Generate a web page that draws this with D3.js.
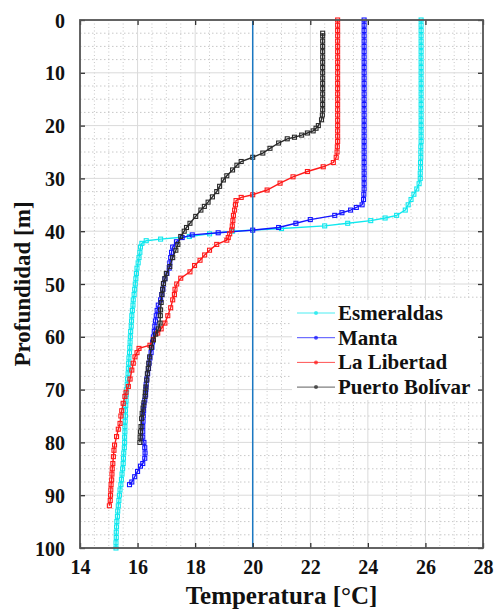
<!DOCTYPE html>
<html>
<head>
<meta charset="utf-8">
<script src="https://cdn.jsdelivr.net/npm/d3@7"></script>
<style>
  body { margin: 0; background: #fff; }
  text { font-family: "Liberation Serif", "Times New Roman", serif; font-weight: bold; fill: #111; }
</style>
</head>
<body>
<div id="chart"></div>
<script>
// [profundidad (m), temperatura (°C)]
var esmeraldas = [
  [0,25.85],[1,25.85],[2,25.85],[3,25.85],[4,25.85],[5,25.85],[6,25.85],[7,25.85],[8,25.85],[9,25.85],
  [10,25.85],[11,25.85],[12,25.85],[13,25.85],[14,25.85],[15,25.85],[16,25.85],[17,25.85],[18,25.85],[19,25.85],
  [20,25.85],[21,25.85],[22,25.85],[23,25.85],[24,25.84],[25,25.84],[26,25.84],[27,25.83],[28,25.83],[29,25.82],[30,25.82],
  [31,25.78],[32,25.7],[33,25.6],[34,25.5],[35,25.4],[36,25.3],[37,25.0],[37.5,24.6],[38,24.1],[38.5,23.3],
  [39,22.5],[39.5,21.0],[40,19.3],[40.5,18.5],[41,17.8],[41.5,16.8],[41.8,16.3],[42.3,16.15],
  [43,16.1],[44,16.08],[45,16.05],[46,16.02],[47,15.98],[48,15.96],[49,15.94],[50,15.92],[51,15.9],[52,15.88],
  [53,15.85],[54,15.84],[55,15.82],[56,15.8],[57,15.79],[58,15.78],[59,15.76],[60,15.75],[61,15.74],[62,15.73],
  [63,15.72],[64,15.7],[65,15.69],[66,15.68],[67,15.67],[68,15.65],[69,15.64],[70,15.62],[71,15.61],[72,15.6],
  [73,15.59],[74,15.58],[75,15.58],[76,15.57],[77,15.56],[78,15.56],[79,15.55],[80,15.55],[81,15.54],[82,15.52],
  [83,15.51],[84,15.5],[85,15.48],[86,15.46],[87,15.44],[88,15.42],[89,15.39],[90,15.37],[91,15.35],[92,15.33],
  [93,15.31],[94,15.3],[95,15.28],[96,15.27],[97,15.26],[98,15.26],[99,15.25],[100,15.25]
];
var manta = [
  [0,23.87],[1,23.87],[2,23.87],[3,23.87],[4,23.87],[5,23.87],[6,23.87],[7,23.87],[8,23.87],[9,23.87],
  [10,23.87],[11,23.87],[12,23.87],[13,23.87],[14,23.87],[15,23.87],[16,23.87],[17,23.87],[18,23.87],[19,23.87],
  [20,23.87],[21,23.87],[22,23.87],[23,23.87],[24,23.87],[25,23.87],[26,23.87],[27,23.87],[28,23.87],[29,23.87],
  [30,23.87],[31,23.87],[32,23.87],[33,23.86],[34,23.85],[35,23.8],[35.5,23.6],[36,23.4],[36.5,23.1],[37,22.85],
  [37.8,22.0],[38.5,21.5],[39.3,20.9],[39.8,20.0],[40.3,18.8],[40.7,17.9],[41.2,17.55],[42,17.35],[43,17.22],
  [44,17.18],[45,17.15],[46,17.12],[47,17.1],[48,17.02],[49,16.95],[50,16.9],[51,16.88],[52,16.84],[53,16.8],
  [54,16.72],[55,16.68],[56,16.65],[57,16.62],[58,16.6],[59,16.58],[60,16.55],[61,16.52],[62,16.5],[63,16.47],
  [64,16.43],[65,16.4],[66,16.38],[67,16.35],[68,16.32],[69,16.3],[70,16.29],[71,16.28],[72,16.25],[73,16.22],
  [74,16.21],[75,16.2],[76,16.19],[77,16.18],[78,16.18],[79,16.18],[80,16.22],[81,16.25],[82,16.26],[83,16.25],
  [84,16.18],[84.5,16.1],[85.5,16.0],[86.5,15.9],[87.5,15.8],[88,15.72]
];
var laLibertad = [
  [0,22.95],[1,22.95],[2,22.95],[3,22.95],[4,22.95],[5,22.95],[6,22.95],[7,22.95],[8,22.95],[9,22.95],
  [10,22.95],[11,22.95],[12,22.95],[13,22.95],[14,22.95],[15,22.95],[16,22.95],[17,22.95],[18,22.95],[19,22.95],
  [20,22.95],[21,22.95],[22,22.95],[23,22.95],[24,22.94],[25,22.93],[26,22.9],[27,22.8],[27.8,22.45],[28.7,21.9],
  [29.7,21.4],[30.9,20.95],[32.2,20.5],[33.1,20.0],[33.6,19.6],[34.2,19.42],[35,19.4],[36,19.37],[37,19.33],
  [38,19.31],[39,19.29],[39.8,19.27],[40.5,19.2],[41.2,19.15],[41.7,19.1],[42.5,18.75],[43.6,18.5],[44.5,18.33],
  [45.5,18.17],[46.5,17.98],[47.7,17.82],[48.9,17.5],[50,17.36],[51,17.3],[52,17.28],[53,17.22],[54.5,17.15],
  [56,17.05],[57.4,16.95],[58.5,16.82],[59.3,16.7],[60.5,16.55],[61.6,16.43],[62.2,16.05],[63,15.98],[63.8,15.91],
  [65,15.85],[66.3,15.8],[68,15.74],[69.4,15.68],[70.5,15.6],[71.3,15.56],[72.6,15.5],[74,15.45],[75,15.42],
  [76.4,15.39],[77.5,15.33],[78.9,15.27],[80.5,15.2],[81.5,15.18],[82.7,15.16],[84,15.14],[85,15.12],[86,15.11],
  [87.1,15.1],[88,15.08],[89,15.07],[90,15.06],[91,15.05],[92,15.02]
];
var puertoBolivar = [
  [2.5,22.43],[3,22.43],[4,22.43],[5,22.43],[6,22.43],[7,22.43],[8,22.43],[9,22.43],[10,22.43],[11,22.43],
  [12,22.43],[13,22.43],[14,22.43],[15,22.43],[16,22.43],[17,22.43],[18,22.42],[18.9,22.39],[20,22.28],[20.5,22.2],
  [21,22.1],[21.4,21.9],[21.8,21.7],[22.2,21.45],[22.5,21.2],[23.3,20.9],[24.3,20.6],[25.2,20.35],[26,20.0],
  [26.8,19.6],[27.5,19.45],[28.4,19.3],[29.5,19.1],[30.3,18.98],[31.5,18.85],[32.5,18.75],[33.5,18.6],[34.5,18.45],
  [35.3,18.32],[36,18.2],[37.2,18.02],[38.5,17.82],[39.3,17.7],[40,17.62],[41,17.5],[42.5,17.4],[43.6,17.33],
  [45,17.22],[46.7,17.12],[48,17.0],[49,16.95],[49.9,16.9],[51,16.87],[52,16.85],[53.5,16.82],[54.9,16.8],
  [56,16.79],[57.4,16.78],[58.5,16.72],[59.5,16.63],[60.6,16.55],[62,16.48],[63.8,16.42],[65,16.39],[66,16.37],
  [67,16.34],[68.2,16.32],[69.5,16.29],[70.5,16.27],[71.3,16.26],[72.5,16.22],[73.5,16.19],[74.5,16.16],
  [75.5,16.14],[77,16.12],[78,16.1],[79,16.09],[80,16.08]
];

var seriesNames = ["Esmeraldas", "Manta", "La Libertad", "Puerto Bolívar"];
var seriesColors = ["#10e8ee", "#1414ff", "#ff1a1a", "#2a2a2a"];
var xTicks = [14, 16, 18, 20, 22, 24, 26, 28];
var yTicks = [0, 10, 20, 30, 40, 50, 60, 70, 80, 90, 100];
var refTemp = 20;

var series = [esmeraldas, manta, laLibertad, puertoBolivar];

var width = 496, height = 610;
var margin = {left: 80, top: 20, right: 13, bottom: 62};
var plotW = width - margin.left - margin.right;
var plotH = height - margin.top - margin.bottom;

var svg = d3.select("#chart").append("svg")
    .attr("width", width)
    .attr("height", height);

var g = svg.append("g")
    .attr("transform", "translate(" + margin.left + "," + margin.top + ")");

var x = d3.scaleLinear().domain([14, 28]).range([0, plotW]);
var y = d3.scaleLinear().domain([0, 100]).range([0, plotH]);

// minor grid (dotted)
var xMinor = d3.range(14.5, 28, 0.5).filter(function(v) { return v % 2 !== 0; });
var yMinor = d3.range(2.5, 100, 2.5).filter(function(v) { return v % 10 !== 0; });

g.selectAll(".xminor").data(xMinor).enter().append("line")
    .attr("x1", d => x(d)).attr("x2", d => x(d))
    .attr("y1", 0).attr("y2", plotH)
    .attr("stroke", "#c8c8c8").attr("stroke-dasharray", "1,2.5");
g.selectAll(".yminor").data(yMinor).enter().append("line")
    .attr("y1", d => y(d)).attr("y2", d => y(d))
    .attr("x1", 0).attr("x2", plotW)
    .attr("stroke", "#c8c8c8").attr("stroke-dasharray", "1.5,2.5");

// major grid
g.selectAll(".xmajor").data(xTicks).enter().append("line")
    .attr("x1", d => x(d)).attr("x2", d => x(d))
    .attr("y1", 0).attr("y2", plotH)
    .attr("stroke", "#dadada");
g.selectAll(".ymajor").data(yTicks).enter().append("line")
    .attr("y1", d => y(d)).attr("y2", d => y(d))
    .attr("x1", 0).attr("x2", plotW)
    .attr("stroke", "#dadada");

// profiles
var line = d3.line()
    .x(d => x(d[1]))
    .y(d => y(d[0]));

series.forEach(function(data, i) {
    g.append("path")
        .datum(data)
        .attr("fill", "none")
        .attr("stroke", seriesColors[i])
        .attr("stroke-width", 1.4)
        .attr("d", line);
    g.selectAll(".m" + i).data(data).enter().append("rect")
        .attr("x", d => x(d[1]) - 2)
        .attr("y", d => y(d[0]) - 2)
        .attr("width", 4).attr("height", 4)
        .attr("fill", "none")
        .attr("stroke", seriesColors[i])
        .attr("stroke-width", 1.1);
});

// reference line at 20 °C
g.append("line")
    .attr("x1", x(refTemp)).attr("x2", x(refTemp))
    .attr("y1", 0).attr("y2", plotH)
    .attr("stroke", "#1a78c2").attr("stroke-width", 1.5);

// axes with inward ticks
var xAxis = d3.axisBottom(x).tickValues(xTicks).tickSize(-5).tickPadding(12);
var yAxis = d3.axisLeft(y).tickValues(yTicks).tickSize(-5).tickPadding(15);

var gx = g.append("g").attr("transform", "translate(0," + plotH + ")").call(xAxis);
var gy = g.append("g").call(yAxis);
g.append("g").call(d3.axisTop(x).tickValues(xTicks).tickSize(-5).tickFormat(""));
g.append("g").attr("transform", "translate(" + plotW + ",0)")
    .call(d3.axisRight(y).tickValues(yTicks).tickSize(-5).tickFormat(""));

g.selectAll(".domain").remove();
g.selectAll(".tick line").attr("stroke", "#333").attr("stroke-width", 1.3);
g.selectAll(".tick text").style("font-size", "20px").attr("fill", "#222");
gy.selectAll(".tick text").attr("dy", "0.35em");

g.append("rect")
    .attr("width", plotW).attr("height", plotH)
    .attr("fill", "none")
    .attr("stroke", "#555").attr("stroke-width", 1.8);

// axis titles
svg.append("text")
    .attr("x", margin.left + plotW / 2)
    .attr("y", 604)
    .attr("text-anchor", "middle")
    .style("font-size", "25px")
    .text("Temperatura [°C]");

svg.append("text")
    .attr("transform", "translate(30," + (margin.top + plotH / 2) + ") rotate(-90)")
    .attr("text-anchor", "middle")
    .style("font-size", "23px")
    .text("Profundidad [m]");

// legend
var legend = svg.append("g").attr("transform", "translate(292,300)");
legend.append("rect")
    .attr("width", 186).attr("height", 100)
    .attr("fill", "#fff");

seriesNames.forEach(function(name, i) {
    var ly = 13 + i * 24.7;
    legend.append("line")
        .attr("x1", 5).attr("x2", 43)
        .attr("y1", ly).attr("y2", ly)
        .attr("stroke", seriesColors[i]).attr("stroke-width", 1)
        .attr("opacity", 0.75);
    legend.append("circle")
        .attr("cx", 24).attr("cy", ly).attr("r", 2)
        .attr("fill", seriesColors[i]).attr("opacity", 0.75);
    legend.append("text")
        .attr("x", 46).attr("y", ly)
        .attr("dy", "0.33em")
        .style("font-size", "21px")
        .text(name);
});
</script>
</body>
</html>
